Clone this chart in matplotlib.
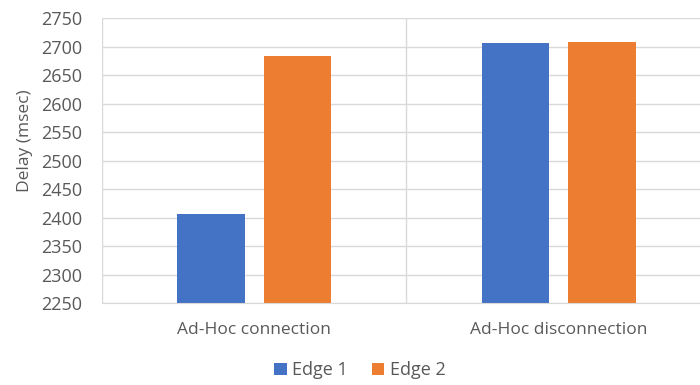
import numpy as np
import matplotlib.pyplot as plt

categories = ["Ad-Hoc connection", "Ad-Hoc disconnection"]
edge1 = [2407, 2707]
edge2 = [2684, 2708]
series_names = ["Edge 1", "Edge 2"]
yticks = np.arange(2250, 2751, 50)

plt.rcParams['font.family'] = ['Open Sans', 'DejaVu Sans']
gris = '#595959'
linea = '#D9D9D9'

fig = plt.figure(figsize=(7, 3.85), dpi=100)
# el area de trazado se sale un poco por la derecha
ax = fig.add_axes([0.1457, 0.213, 0.87, 0.740])

x = np.arange(len(categories))
w = 0.223
off = 0.142
ax.bar(x - off, np.array(edge1) - 2250, w, bottom=2250, color='#4472C4', label=series_names[0])
ax.bar(x + off, np.array(edge2) - 2250, w, bottom=2250, color='#ED7D31', label=series_names[1])

ax.set_xlim(-0.5, 1.5)
ax.set_ylim(2250, 2750)
ax.set_yticks(yticks)
ax.set_xticks(x)
ax.set_xticklabels(categories)
ax.yaxis.grid(True, color=linea, lw=1)
ax.set_axisbelow(True)
# separadores entre categorias
for xs in [-0.5, 0.5, 1.5]:
    ax.axvline(xs, color=linea, lw=1, zorder=0)

for s in ['top', 'right', 'left']:
    ax.spines[s].set_visible(False)
ax.spines['bottom'].set_color(linea)
ax.tick_params(axis='both', length=0, colors=gris)
ax.tick_params(axis='x', pad=14, labelsize=12.5)
ax.tick_params(axis='y', pad=14, labelsize=13)
ax.set_ylabel("Delay (msec)", color=gris, fontsize=12.5)
ax.yaxis.set_label_coords(-0.113, 0.568)

fig.legend(loc='center', bbox_to_anchor=(0.514, 0.038), ncol=2, frameon=False,
           fontsize=13, labelcolor=gris, handlelength=0.7, handleheight=0.7,
           handletextpad=0.3, columnspacing=1.3)

fig.savefig("out.png", dpi=100)
